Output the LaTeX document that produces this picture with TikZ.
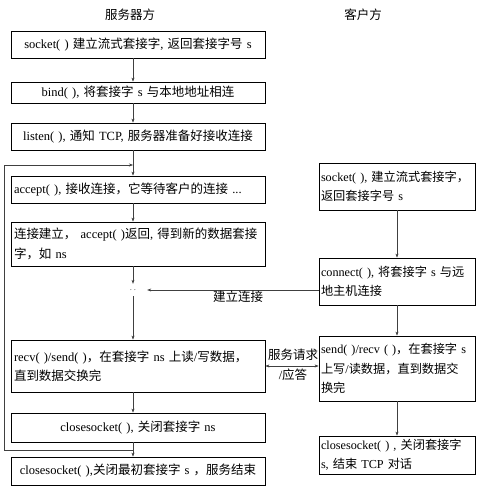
\documentclass[tikz,border=0pt]{standalone}
\usepackage{fontspec}
\setmainfont{Liberation Serif}
\newfontfamily\cjk{Noto Sans CJK SC}
\newcommand\zh[1]{{\cjk #1}}
\usetikzlibrary{arrows.meta}
\begin{document}
\begin{tikzpicture}[x=1pt,y=-1pt,
  every node/.style={font=\fontsize{12.5}{19.5}\selectfont},
  sbox/.style={draw=black, line width=0.8pt, text width=248pt, inner sep=3pt},
  cbox/.style={draw=black, line width=0.8pt, text width=152pt, align=left, inner sep=2pt, font=\fontsize{12.2}{19.5}\selectfont},
  arr/.style={draw=black!75, line width=0.5pt, -{Stealth[length=4pt,width=3pt]}},
  arrb/.style={draw=black!75, line width=0.5pt, {Stealth[length=4pt,width=3pt]}-{Stealth[length=4pt,width=3pt]}},
  lbl/.style={inner sep=1pt}
]
\useasboundingbox (0,0) rectangle (477,491);
% titles
\node[lbl] (ts) at (130,15) {\zh{服务器方}};
\node[lbl] (tc) at (363,15) {\zh{客户方}};
% server boxes
\node[sbox, align=center, minimum height=27pt] (b1) at (138,44.5) {socket( ) \zh{建立流式套接字}, \zh{返回套接字号} s};
\node[sbox, align=center, minimum height=21pt] (b2) at (138,92.5) {bind( ), \zh{将套接字} s \zh{与本地地址相连}};
\node[sbox, align=center, minimum height=27pt] (b3) at (138,136.5) {listen( ), \zh{通知} TCP, \zh{服务器准备好接收连接}};
\node[sbox, align=left, minimum height=27pt] (b4) at (138,189.5) {accept( ), \zh{接收连接，它等待客户的连接} ...};
\node[sbox, align=left, minimum height=44pt] (b5) at (138,244) {\zh{连接建立，} accept( )\zh{返回}, \zh{得到新的数据套接}\\\zh{字，如} ns};
\node[sbox, align=left, minimum height=52pt] (b6) at (138,366) {recv( )/send( )\zh{，在套接字} ns \zh{上读}/\zh{写数据，}\\\zh{直到数据交换完}};
\node[sbox, align=center, minimum height=29pt] (b7) at (138,427.5) {closesocket( ), \zh{关闭套接字} ns};
\node[sbox, align=center, minimum height=28pt] (b8) at (138,471) {closesocket( ),\zh{关闭最初套接字} s \zh{，服务结束}};
% client boxes
\node[cbox, minimum height=47pt] (c1) at (397,186.5) {socket( ), \zh{建立流式套接字，}\\\zh{返回套接字号} s};
\node[cbox, minimum height=47pt] (c2) at (397,281.5) {connect( ), \zh{将套接字} s \zh{与远}\\\zh{地主机连接}};
\node[cbox, minimum height=65pt] (c3) at (397,368.5) {send( )/recv ( )\zh{，在套接字} s\\\zh{上写}/\zh{读数据，直到数据交}\\\zh{换完}};
\node[cbox, minimum height=38pt] (c4) at (397,455) {closesocket( ) , \zh{关闭套接字}\\s, \zh{结束} TCP \zh{对话}};
% junction and helper coordinates
\coordinate (xs) at (133,0);
\node[inner sep=0pt, minimum width=28pt, minimum height=12pt, font=\scriptsize] (j) at (133,290) {.\,\,.};
\coordinate (lp) at (133,450);
\coordinate (lb) at (4,450);
\coordinate (lt) at (4,165);
\coordinate (la) at (133,165);
% server arrows
\draw[arr] (b1.south -| xs) -- (b2.north -| xs);
\draw[arr] (b2.south -| xs) -- (b3.north -| xs);
\draw[arr] (b3.south -| xs) -- (b4.north -| xs);
\draw[arr] (b4.south -| xs) -- (b5.north -| xs);
\draw[arr] (b5.south -| xs) -- (j.north);
\draw[arr] (j.south) -- (b6.north -| xs);
\draw[arr] (b6.south -| xs) -- (b7.north -| xs);
\draw[arr] (b7.south -| xs) -- (b8.north -| xs);
% loop back
\draw[arr] (lp) -- (lb) -- (lt) -- (la);
% client arrows
\draw[arr] (c1.south) -- (c2.north);
\draw[arr] (c2.south) -- (c3.north);
\draw[arr] (c3.south) -- (c4.north);
% connection
\draw[arr] (c2.west |- j) -- (j.east);
\node[lbl] (l1) at (238,297) {\zh{建立连接}};
% request / response
\draw[arrb] (b6.east) -- (c3.west |- b6.east);
\node[lbl] (l2) at (293,355) {\zh{服务请求}};
\node[lbl] (l3) at (293,375) {/\zh{应答}};
\end{tikzpicture}
\end{document}
